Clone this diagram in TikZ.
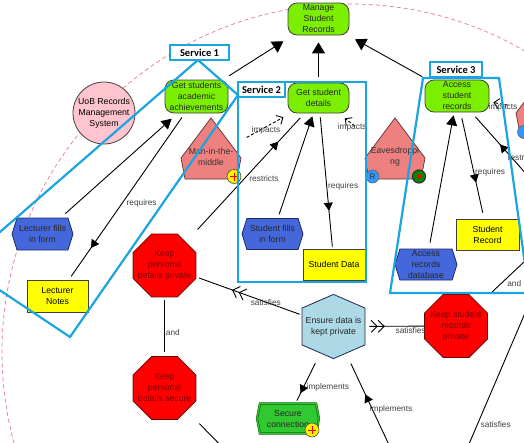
\documentclass[tikz,border=0pt]{standalone}
\usepackage{fontspec}
\setmainfont{Liberation Sans}
\newfontfamily\svcfont{Carlito}
\usetikzlibrary{positioning,arrows.meta,shapes.geometric,shapes.symbols,decorations.markings}
\definecolor{goalgreen}{RGB}{124,238,0}
\definecolor{taskblue}{RGB}{68,104,220}
\definecolor{taskedge}{RGB}{30,40,100}
\definecolor{resyellow}{RGB}{255,255,0}
\definecolor{keepred}{RGB}{255,0,0}
\definecolor{keepedge}{RGB}{110,0,0}
\definecolor{keeptext}{RGB}{120,0,0}
\definecolor{threatpink}{RGB}{238,128,128}
\definecolor{threatedge}{RGB}{90,50,50}
\definecolor{actorpink}{RGB}{255,196,206}
\definecolor{ensblue}{RGB}{173,216,230}
\definecolor{ensedge}{RGB}{30,40,80}
\definecolor{mechgreen}{RGB}{50,200,50}
\definecolor{mechedge}{RGB}{0,90,0}
\definecolor{svcblue}{RGB}{27,164,226}
\definecolor{arcred}{RGB}{232,120,135}
\definecolor{rblue}{RGB}{50,150,250}

\begin{document}
\begin{tikzpicture}[x=1pt,y=-1pt,line width=0.9pt,
  every node/.style={font=\fontsize{8.7}{11}\selectfont,inner sep=0pt,align=center},
  goal/.style={rectangle,draw=black!75,line width=0.8pt,fill=goalgreen,rounded corners=9pt,minimum width=61pt,minimum height=32pt,text=black!85},
  task/.style={signal,signal to=east and west,signal pointer angle=145,draw=taskedge,line width=0.8pt,fill=taskblue,minimum width=61pt,minimum height=32pt,text=black!85},
  res/.style={rectangle,draw=black!75,line width=0.8pt,fill=resyellow,minimum width=62pt,minimum height=31pt},
  keep/.style={regular polygon,regular polygon sides=8,minimum size=68pt,draw=keepedge,line width=0.8pt,fill=keepred},
  keeptxt/.style={text=keeptext},
  threat/.style={rectangle,minimum width=60pt,minimum height=44pt,text=black!80},
  pent/.pic={\filldraw[draw=threatedge,fill=threatpink,line width=0.7pt] (0,-39) -- (30,1) -- (26,22) -- (-26,22) -- (-30,1) -- cycle;},
  actor/.style={circle,draw=black!75,line width=0.8pt,fill=actorpink,minimum size=62pt},
  secgoal/.style={signal,signal to=north and south,signal pointer angle=133,draw=ensedge,line width=0.8pt,fill=ensblue,minimum width=63pt,minimum height=61pt,text=black!85},
  mech/.style={signal,signal to=east and west,signal pointer angle=158,draw=mechedge,line width=0.5pt,double=mechgreen,double distance=1.2pt,fill=mechgreen,minimum width=62pt,minimum height=30pt,text=black!85},
  plusbadge/.style={circle,draw=black!70,line width=0.6pt,fill=yellow,minimum size=14pt,
    path picture={\draw[red,line width=0.7pt] ([yshift=-3pt]path picture bounding box.north) -- ([yshift=3pt]path picture bounding box.south)
      ([xshift=3pt]path picture bounding box.west) -- ([xshift=-3pt]path picture bounding box.east);}},
  rbadge/.style={circle,draw=black!60,line width=0.6pt,fill=rblue,minimum size=13pt,font=\fontsize{8}{9}\selectfont,text=black!80},
  tgtbadge/.style={circle,draw=black!80,line width=1.2pt,fill=green!55!black,minimum size=13pt,
    path picture={\fill[red] (path picture bounding box.center) circle (2.3pt);}},
  svc/.style={draw=svcblue,line width=2.2pt,line join=miter},
  svclabel/.style={rectangle,draw=svcblue,line width=1.8pt,fill=white,minimum height=15pt,font=\svcfont\bfseries\fontsize{10.5}{12}\selectfont},
  lbl/.style={font=\fontsize{8.3}{9}\selectfont,text=black!75,inner sep=1pt},
  bigtip/.style={-{Triangle[length=11pt,width=13pt]}},
  tip/.style={-{Triangle[length=10pt,width=11pt]}},
  impact/.style={dash pattern=on 3pt off 2pt,-{Straight Barb[length=5pt,width=10pt]}},
  midtip/.style={postaction={decorate},decoration={markings,mark=at position #1 with {\arrow{Triangle[length=8pt,width=9pt]}}}},
  sattip/.style={postaction={decorate},decoration={markings,mark=at position #1 with {\arrow{Straight Barb[length=6pt,width=12pt] Straight Barb[length=6pt,width=12pt]}}}}]
  \clip (0,0) rectangle (524,442);
  \draw[arcred,line width=0.7pt,dash pattern=on 4pt off 3pt] (350,352) circle (348);

  \node[goal] (mng) at (318.5,19) {Manage\\Student\\Records};
  \node[goal,minimum width=63pt,minimum height=33pt] (achv) at (196.5,96.5) {Get students\\academic\\achievements};
  \node[goal,minimum height=30pt] (det) at (318.5,98) {Get student\\details};
  \node[goal,minimum width=64pt] (acc) at (457,96) {Access\\student\\records};
  \node[actor] (uob) at (104,113) {UoB Records\\Management\\System};
  \pic at (211,157) {pent};
  \node[threat] (mitm) at (211,157) {Man-in-the-\\middle};
  \pic at (395,157) {pent};
  \node[threat] (eav) at (395,157) {Eavesdroppi\\ng};
  \pic at (546,112) {pent};
  \node[threat] (thr3) at (546,112) {};
  \node[plusbadge] (mitmplus) at (234,176.5) {};
  \node[rbadge] (eavr) at (372.5,176.5) {R};
  \node[tgtbadge] (eavt) at (419,176.5) {};
  \node[rbadge] (thrr) at (524,132) {};
  \node[task] (lfill) at (42.5,234) {Lecturer fills\\in form};
  \node[res,minimum width=61pt,minimum height=32pt] (lnotes) at (57.5,296) {Lecturer\\Notes};
  \node[task,minimum height=31pt] (sfill) at (272.5,234) {Student fills\\in form};
  \node[res] (sdata) at (334,264.5) {Student Data};
  \node[res,minimum width=63pt] (srec) at (487.5,234.5) {Student\\Record};
  \node[task,minimum width=62pt,minimum height=31pt] (adb) at (426,264.5) {Access\\records\\database};
  \node[keep,label={[keeptxt]center:Keep\\personal\\details private}] (kpp) at (164.5,265.5) {};
  \node[keep,label={[keeptxt]center:Keep\\personal\\details secure}] (kps) at (164.5,388) {};
  \node[secgoal] (ens) at (333.5,326.5) {Ensure data is\\kept private};
  \node[keep,label={[keeptxt]center:Keep student\\records\\private}] (ksrp) at (456,326) {};
  \node[mech] (sec) at (288,418.5) {Secure\\connection};
  \node[plusbadge] (secplus) at (312,430) {};
  \coordinate (offR1) at (560,212);
  \coordinate (offR2) at (560,228);
  \coordinate (offR3) at (540,278);
  \coordinate (offB1) at (235,460);
  \coordinate (offB2) at (400.8,470);
  \coordinate (offB3) at (459.6,466);

  \path[line width=0.9pt]
    (achv) edge[bigtip,shorten <=7pt,shorten >=11pt] (mng)
    (det) edge[bigtip,shorten <=6pt,shorten >=7pt] (mng)
    (acc) edge[bigtip,shorten <=6pt,shorten >=8pt] (mng)
    (lfill) edge[tip,shorten <=6pt,shorten >=8pt] (achv)
    (sfill) edge[tip,shorten <=4pt,shorten >=3pt] (det)
    (adb) edge[tip,shorten <=6pt,shorten >=3pt] (acc)
    (achv) edge[midtip=0.81,shorten <=5pt,shorten >=4pt] node[lbl,pos=0.54,anchor=west,xshift=3pt] {requires} (lnotes)
    (det) edge[midtip=0.72,shorten <=4pt,shorten >=2pt] node[lbl,pos=0.54,anchor=west] {requires} (sdata)
    (acc) edge[midtip=0.66,shorten <=6pt,shorten >=6pt] node[lbl,pos=0.56,anchor=west] {requires} (srec)
    (kpp) edge[midtip=0.78,shorten <=17pt,shorten >=6pt] node[lbl,pos=0.49,anchor=west,xshift=4pt] {restricts} (det)
    (offR1) edge[midtip=0.68,shorten >=6pt] node[lbl,pos=0.55,anchor=west,xshift=-5pt] {restricts} (acc)
    (mitm) edge[impact,shorten <=6pt,shorten >=8pt] node[lbl,below=-2pt] {impacts} (det)
    (eav) edge[impact,shorten <=14pt,shorten >=8pt] node[lbl,below=-2pt] {impacts} (det)
    (thr3) edge[impact,shorten <=8pt,shorten >=4pt] node[lbl,pos=0.48,below=-2pt] {impacts} (acc)
    (kpp) edge[shorten <=3pt,shorten >=4pt] node[lbl,pos=0.6,anchor=west] {and} (kps)
    (ksrp) edge[shorten <=18pt] node[lbl,pos=0.33,anchor=north west] {and} (offR2)
    (kps) edge[shorten <=18pt] (offB1)
    (offB3) edge node[lbl,pos=0.22,anchor=west,xshift=2pt] {satisfies} (offR3)
    (ens) edge[sattip=0.66,shorten <=2pt,shorten >=3pt] node[lbl,pos=0.34] {satisfies} (kpp)
    (ens) edge[sattip=0.33,shorten <=4pt] node[lbl,pos=0.77,below=0pt] {satisfies} (ksrp)
    (ens) edge[midtip=0.8,shorten <=11pt,shorten >=3pt] node[lbl,pos=0.69,anchor=west,xshift=2pt] {implements} (sec)
    (offB2) edge[midtip=0.65,shorten >=11pt] node[lbl,pos=0.52,anchor=west,xshift=-4pt] {implements} (ens);

  \draw[svc] (198,60) -- (238,95) -- (70,337) -- (-38,265) -- cycle;
  \draw[svc] (238,82) rectangle (366,282);
  \draw[svc] (423,78) -- (499,78) -- (529,293) -- (390,293) -- cycle;
  \node[svclabel,minimum width=59pt] (svc1) at (199.5,52.5) {Service 1};
  \node[svclabel,minimum width=47pt] (svc2) at (261.5,89.5) {Service 2};
  \node[svclabel,minimum width=52pt] (svc3) at (456,69.5) {Service 3};
\end{tikzpicture}
\end{document}
